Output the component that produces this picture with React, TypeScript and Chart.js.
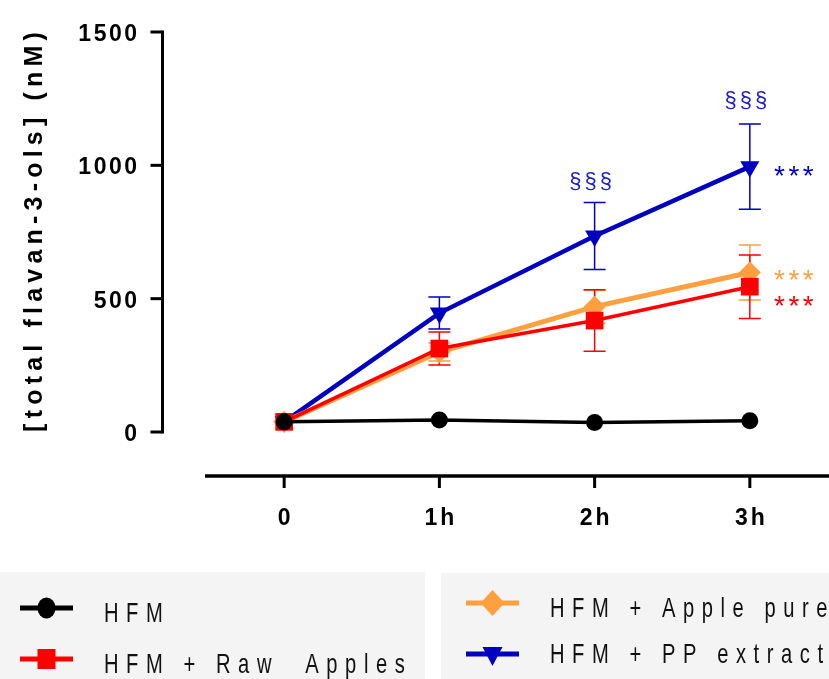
import React, { useEffect, useRef } from 'react';
import { Chart, registerables } from 'chart.js';

Chart.register(...registerables);

// ---------- data ----------
const timeValues = [0, 1, 2, 3];
const timeLabels = ['0', '1h', '2h', '3h'];
const yTicks = [0, 500, 1000, 1500];
const yTitle = '[total flavan-3-ols] (nM)';

const seriesNames = ['HFM', 'HFM + Raw  Apples', 'HFM + Apple puree', 'HFM + PP extract'];
const hfm = [38, 45, 36, 42];
const hfmErr = [0, 0, 0, 0];
const rawApples = [38, 313, 418, 545];
const rawApplesErr = [0, 62, 115, 119];
const applePuree = [38, 300, 470, 598];
const applePureeErr = [0, 34, 62, 103];
const ppExtract = [38, 446, 735, 995];
const ppExtractErr = [0, 60, 126, 160];

const sectionMarks = ['§§§', '§§§'];
const sectionX = [2, 3];
const sectionY = [940, 1245];
const starMarks = ['***', '***', '***'];
const starSeries = [3, 2, 1];
const starX = [3, 3, 3];
const starY = [979, 589, 491];

// ---------- styles ----------
const colors = ['#000000', '#ff0000', '#ffa040', '#0000c0'];
const pointStyles = ['circle', 'rect', 'rectRot', 'triangle'];
const pointRadii = [8.5, 12.5, 11, 11];
const pointRotations = [0, 0, 0, 180];
const lineWidths = [3.5, 3.5, 5, 4.5];

const seriesValues = [hfm, rawApples, applePuree, ppExtract];
const seriesErrors = [hfmErr, rawApplesErr, applePureeErr, ppExtractErr];

function spaced(ctx: CanvasRenderingContext2D, sp: number) {
  (ctx as any).letterSpacing = sp + 'px';
}

function drawMarker(ctx: CanvasRenderingContext2D, idx: number, x: number, y: number) {
  ctx.fillStyle = colors[idx];
  ctx.beginPath();
  if (idx === 0) {
    ctx.ellipse(x, y, 9, 10.5, 0, 0, Math.PI * 2);
  } else if (idx === 1) {
    ctx.rect(x - 9, y - 10, 18, 20);
  } else if (idx === 2) {
    ctx.moveTo(x - 12, y);
    ctx.lineTo(x, y - 13);
    ctx.lineTo(x + 12, y);
    ctx.lineTo(x, y + 13);
    ctx.closePath();
  } else {
    ctx.moveTo(x - 10, y - 7);
    ctx.lineTo(x + 10, y - 7);
    ctx.lineTo(x, y + 12);
    ctx.closePath();
  }
  ctx.fill();
}

const errorBarPlugin = {
  id: 'errorBars',
  beforeDatasetsDraw(chart: any) {
    const ctx = chart.ctx as CanvasRenderingContext2D;
    const xs = chart.scales.x;
    const ys = chart.scales.y;
    ctx.save();
    for (let d = seriesValues.length - 1; d >= 0; d--) {
      ctx.strokeStyle = colors[d];
      ctx.lineWidth = 1.5;
      seriesValues[d].forEach((v, i) => {
        const e = seriesErrors[d][i];
        if (!e) return;
        const x = xs.getPixelForValue(timeValues[i]);
        const yt = ys.getPixelForValue(v + e);
        const yb = ys.getPixelForValue(v - e);
        ctx.beginPath();
        ctx.moveTo(x, yt);
        ctx.lineTo(x, yb);
        ctx.moveTo(x - 11, yt);
        ctx.lineTo(x + 11, yt);
        ctx.moveTo(x - 11, yb);
        ctx.lineTo(x + 11, yb);
        ctx.stroke();
      });
    }
    ctx.restore();
  },
};

function centeredText(ctx: CanvasRenderingContext2D, text: string, cx: number, cy: number, sp: number) {
  const m = ctx.measureText(text);
  const w = m.width;
  const asc = m.actualBoundingBoxAscent;
  const desc = m.actualBoundingBoxDescent;
  ctx.textAlign = 'left';
  ctx.textBaseline = 'alphabetic';
  ctx.fillText(text, cx - (w - sp) / 2, cy + (asc - desc) / 2);
}

const decorPlugin = {
  id: 'decor',
  afterDraw(chart: any) {
    const ctx = chart.ctx as CanvasRenderingContext2D;
    const xs = chart.scales.x;
    const ys = chart.scales.y;
    const area = chart.chartArea;
    ctx.save();

    // ---- Y axis (detached) ----
    const axX = area.left - 42.5;
    ctx.strokeStyle = '#000';
    ctx.lineWidth = 3;
    ctx.beginPath();
    ctx.moveTo(axX, ys.getPixelForValue(yTicks[yTicks.length - 1]) - 1.5);
    ctx.lineTo(axX, ys.getPixelForValue(yTicks[0]) + 1.5);
    ctx.stroke();
    ctx.fillStyle = '#000';
    ctx.font = "bold 23px 'Liberation Sans', Arial, sans-serif";
    spaced(ctx, 2.5);
    ctx.textAlign = 'right';
    ctx.textBaseline = 'alphabetic';
    yTicks.forEach((t) => {
      const y = ys.getPixelForValue(t);
      ctx.beginPath();
      ctx.moveTo(axX - 12, y);
      ctx.lineTo(axX, y);
      ctx.stroke();
      ctx.fillText(String(t), axX - 23, y + 9);
    });

    // Y title
    ctx.save();
    ctx.translate(34.5, (ys.getPixelForValue(0) + ys.getPixelForValue(1500)) / 2);
    ctx.rotate(-Math.PI / 2);
    ctx.font = "bold 25px 'Liberation Sans', Arial, sans-serif";
    spaced(ctx, 5.2);
    centeredText(ctx, yTitle, 0, 0, 5.2);
    ctx.restore();

    // ---- X axis (detached) ----
    const axY = area.bottom + 44;
    ctx.lineWidth = 3.5;
    ctx.beginPath();
    ctx.moveTo(area.left, axY);
    ctx.lineTo(area.right, axY);
    ctx.stroke();
    ctx.lineWidth = 3;
    ctx.font = "bold 23px 'Liberation Sans', Arial, sans-serif";
    spaced(ctx, 3);
    timeValues.forEach((v, i) => {
      const x = xs.getPixelForValue(v);
      ctx.beginPath();
      ctx.moveTo(x, axY);
      ctx.lineTo(x, axY + 12);
      ctx.stroke();
      centeredText(ctx, timeLabels[i], x, axY + 40, 3);
    });

    // ---- annotations ----
    ctx.font = "22px 'Liberation Sans', Arial, sans-serif";
    spaced(ctx, 3);
    ctx.fillStyle = '#2020c0';
    sectionMarks.forEach((s, i) => {
      centeredText(ctx, s, xs.getPixelForValue(sectionX[i]) - 4, ys.getPixelForValue(sectionY[i]), 3);
    });
    ctx.font = "28px 'Liberation Sans', Arial, sans-serif";
    spaced(ctx, 3.5);
    starMarks.forEach((s, i) => {
      ctx.fillStyle = colors[starSeries[i]];
      centeredText(ctx, s, xs.getPixelForValue(starX[i]) + 44, ys.getPixelForValue(starY[i]), 3.5);
    });

    // ---- legend ----
    ctx.fillStyle = '#f4f4f4';
    ctx.fillRect(0, 572, 425, 107);
    ctx.fillRect(441, 573, 388, 106);
    const legendPos = [
      { x: 20, y: 608, base: 622 },
      { x: 20, y: 659, base: 673 },
      { x: 466, y: 603, base: 617 },
      { x: 466, y: 654, base: 663 },
    ];
    ctx.font = "28px 'Liberation Sans', Arial, sans-serif";
    seriesNames.forEach((name, i) => {
      const p = legendPos[i];
      ctx.strokeStyle = colors[i];
      ctx.lineWidth = 5;
      ctx.beginPath();
      ctx.moveTo(p.x, p.y);
      ctx.lineTo(p.x + 53, p.y);
      ctx.stroke();
      drawMarker(ctx, i, p.x + 26.5, p.y);
      ctx.fillStyle = '#111';
      ctx.save();
      ctx.translate(p.x + 84, p.base);
      ctx.scale(0.72, 1);
      spaced(ctx, 10.5);
      ctx.textAlign = 'left';
      ctx.textBaseline = 'alphabetic';
      ctx.fillText(name, 0, 0);
      ctx.restore();
    });

    ctx.restore();
  },
};

export default function App() {
  const ref = useRef<HTMLCanvasElement | null>(null);

  useEffect(() => {
    if (!ref.current) return;
    const datasets = seriesNames.map((name, i) => ({
      label: name,
      data: seriesValues[i].map((v, j) => ({ x: timeValues[j], y: v })),
      borderColor: colors[i],
      backgroundColor: colors[i],
      pointBackgroundColor: colors[i],
      pointBorderColor: colors[i],
      pointBorderWidth: 0,
      pointStyle: pointStyles[i] as any,
      pointRadius: pointRadii[i],
      pointRotation: pointRotations[i],
      borderWidth: lineWidths[i],
      tension: 0,
      clip: false as any,
    }));
    const chart = new Chart(ref.current, {
      type: 'line',
      data: { datasets },
      options: {
        responsive: false,
        animation: false,
        devicePixelRatio: 1,
        layout: { autoPadding: false, padding: { left: 205, right: 0, top: 32, bottom: 247 } },
        plugins: { legend: { display: false }, tooltip: { enabled: false } },
        scales: {
          x: { type: 'linear', min: -0.51, max: 3.51, display: false },
          y: { type: 'linear', min: 0, max: 1500, display: false },
        },
      },
      plugins: [errorBarPlugin, decorPlugin],
    });
    return () => chart.destroy();
  }, []);

  return (
    <div style={{ position: 'fixed', left: 0, top: 0, width: 829, height: 679, background: '#fff' }}>
      <canvas ref={ref} width={829} height={679} style={{ display: 'block', width: 829, height: 679 }} />
    </div>
  );
}
